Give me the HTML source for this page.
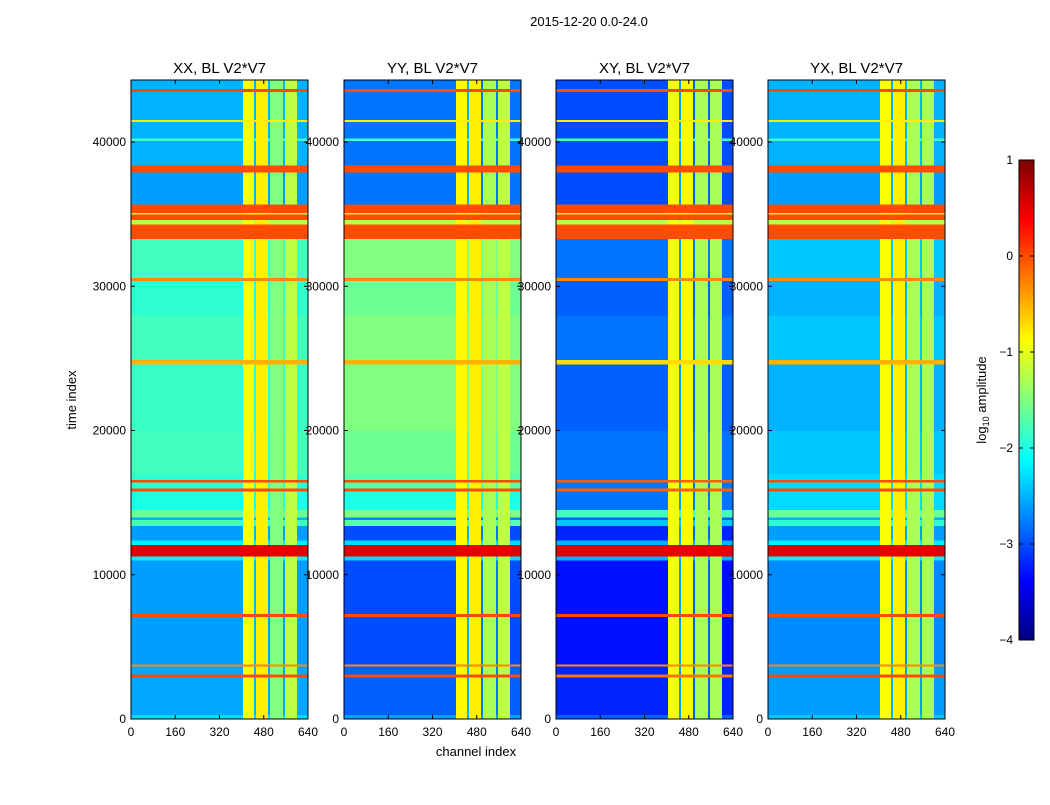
<!DOCTYPE html>
<html><head><meta charset="utf-8"><style>
body{margin:0;background:#fff;font-family:"Liberation Sans",sans-serif;}
svg text{font-family:"Liberation Sans",sans-serif;fill:#000;}
</style></head><body>
<svg id="fig" width="1050" height="800" xmlns="http://www.w3.org/2000/svg">
<rect width="1050" height="800" fill="#fff"/>
<text x="589" y="26" font-size="13" text-anchor="middle">2015-12-20 0.0-24.0</text>
<text x="76" y="400" font-size="13" text-anchor="middle" transform="rotate(-90 76 400)">time index</text>
<text x="476" y="756" font-size="13" text-anchor="middle">channel index</text>
<g id="panels"></g>
<g id="cbar"></g>
<text x="986" y="400" font-size="13" text-anchor="middle" transform="rotate(-90 986 400)">log<tspan font-size="9" dy="3">10</tspan><tspan dy="-3"> amplitude</tspan></text>
</svg>
<script>
const panelTitles = ["XX, BL V2*V7","YY, BL V2*V7","XY, BL V2*V7","YX, BL V2*V7"];
const timeEdges = [0,300,2900,3100,3650,3800,7100,7300,11000,11300,12100,12400,13400,13800,14000,14500,15800,16000,16400,16600,17000,20000,24600,24900,28000,30400,30600,33300,34300,34600,35000,35100,35700,37900,38400,40100,40250,41400,41550,43500,43700,44300];
const rowXX = [-2.3,-2.55,0,-2.55,-0.3,-2.6,0,-2.6,-2.2,0.5,-2.2,-2.6,-1.8,-2.5,-1.6,-2.0,0,-1.9,0,-1.9,-1.8,-1.85,-0.5,-1.8,-1.9,-0.3,-1.8,0,-1.2,0,-1.2,0,-2.6,0,-2.5,-1.8,-2.5,-0.8,-2.5,0,-2.5];
const rowYY = [-2.6,-2.9,0,-2.9,-0.3,-3.0,0,-3.0,-2.3,0.5,-2.3,-3.0,-1.7,-2.7,-1.5,-2.0,0,-1.7,0,-1.7,-1.6,-1.5,-0.5,-1.5,-1.6,-0.3,-1.5,0,-1.2,0,-1.2,0,-2.8,0,-2.8,-1.8,-2.8,-0.8,-2.8,0,-2.8];
const rowXY = [-2.9,-3.2,-0.2,-3.2,-0.3,-3.3,0,-3.3,-2.5,0.5,-2.5,-3.2,-2.4,-2.9,-1.8,-2.8,-0.1,-2.8,-0.1,-2.8,-2.8,-2.9,-0.7,-2.8,-2.9,-0.3,-2.8,0,-1.2,0,-1.2,0,-3.0,0,-3.0,-1.8,-3.0,-0.8,-3.0,0,-3.0];
const rowYX = [-2.4,-2.6,0,-2.6,-0.3,-2.7,0,-2.7,-2.2,0.5,-2.2,-2.6,-1.9,-2.5,-1.6,-2.3,0,-2.3,0,-2.3,-2.4,-2.5,-0.5,-2.4,-2.5,-0.3,-2.4,0,-1.2,0,-1.2,0,-2.6,0,-2.5,-1.8,-2.5,-0.8,-2.5,0,-2.5];
const chanEdges = [0,405,445,452,495,503,550,557,600,640];
const colXX = [-9,-0.9,-2.5,-0.8,-2.8,-1.5,-2.8,-1.2,-9];
const colYY = [-9,-0.85,-2.5,-0.8,-2.8,-1.3,-2.8,-1.2,-9];
const colXY = [-9,-0.9,-2.6,-0.9,-2.9,-1.3,-2.9,-1.3,-9];
const colYX = [-9,-0.9,-2.5,-0.8,-2.8,-1.3,-2.8,-1.3,-9];
const xTicks = [0,160,320,480,640];
const yTicks = [0,10000,20000,30000,40000];
const cbTicks = [1,0,-1,-2,-3,-4];

const rows=[rowXX,rowYY,rowXY,rowYX], cols=[colXX,colYY,colXY,colYX];
const panelLeft=[131,344,556,768], PW=177, PT=80, PB=719;
const T_MAX=44300, C_MAX=640, VMIN=-4, VMAX=1;
function jet(v){let t=(v-VMIN)/(VMAX-VMIN);t=Math.max(0,Math.min(1,t));
 const r=Math.max(0,Math.min(1,1.5-Math.abs(4*t-3))),g=Math.max(0,Math.min(1,1.5-Math.abs(4*t-2))),b=Math.max(0,Math.min(1,1.5-Math.abs(4*t-1)));
 return `rgb(${Math.round(r*255)},${Math.round(g*255)},${Math.round(b*255)})`;}
const NS="http://www.w3.org/2000/svg";
function el(tag,attrs,parent){const e=document.createElementNS(NS,tag);for(const k in attrs)e.setAttribute(k,attrs[k]);parent.appendChild(e);return e;}
const yScale=t=>PB-(t/T_MAX)*(PB-PT);
const panelsG=document.getElementById('panels');
for(let p=0;p<4;p++){
 const L=panelLeft[p], xs=c=>L+(c/C_MAX)*PW;
 const g=el('g',{},panelsG);
 
 
 for(let i=0;i<rows[p].length;i++){
  const y0=yScale(timeEdges[i+1]),y1=yScale(timeEdges[i]);
  for(let j=0;j<cols[p].length;j++){
   const v=Math.max(rows[p][i],cols[p][j]);
   const r=el('rect',{x:xs(chanEdges[j]),y:y0,width:xs(chanEdges[j+1])-xs(chanEdges[j])+0.3,height:y1-y0+0.3,fill:jet(v),'shape-rendering':'crispEdges'},g);
   
   
  }
 }
 el('rect',{x:L,y:PT,width:PW,height:PB-PT,fill:'none',stroke:'#000','stroke-width':1},g);
 const t=el('text',{x:L+PW/2,y:73,'font-size':15,'text-anchor':'middle'},g);t.textContent=panelTitles[p];
 
 
 xTicks.forEach(v=>{const x=xs(v);
  el('line',{x1:x,x2:x,y1:PB,y2:PB-4,stroke:'#000'},g);el('line',{x1:x,x2:x,y1:PT,y2:PT+4,stroke:'#000'},g);
  const tx=el('text',{x:x,y:736,'font-size':12,'text-anchor':'middle'},g);tx.textContent=v;
  
  });
 yTicks.forEach(v=>{const y=yScale(v);
  el('line',{x1:L,x2:L+4,y1:y,y2:y,stroke:'#000'},g);el('line',{x1:L+PW,x2:L+PW-4,y1:y,y2:y,stroke:'#000'},g);
  const ty=el('text',{x:L-5,y:y+4,'font-size':12,'text-anchor':'end'},g);ty.textContent=v;
  
  });
}
const cb=document.getElementById('cbar');const CX=1019,CW=15,CT=160,CB=640;
for(let i=0;i<200;i++){const v=VMIN+(i+0.5)/200*(VMAX-VMIN);const y=CB-(i+1)/200*(CB-CT);
 el('rect',{x:CX,y:y,width:CW,height:(CB-CT)/200+0.5,fill:jet(v),'shape-rendering':'crispEdges'},cb);}
el('rect',{x:CX,y:CT,width:CW,height:CB-CT,fill:'none',stroke:'#000'},cb);
cbTicks.forEach(v=>{const y=CB-(v-VMIN)/(VMAX-VMIN)*(CB-CT);
 el('line',{x1:CX,x2:CX+4,y1:y,y2:y,stroke:'#000'},cb);el('line',{x1:CX+CW,x2:CX+CW-4,y1:y,y2:y,stroke:'#000'},cb);
 const t=el('text',{x:1013,y:y+4,'font-size':12,'text-anchor':'end'},cb);t.textContent=(v<0?'\u2212'+(-v):v);
 
 });
</script>
</body></html>
